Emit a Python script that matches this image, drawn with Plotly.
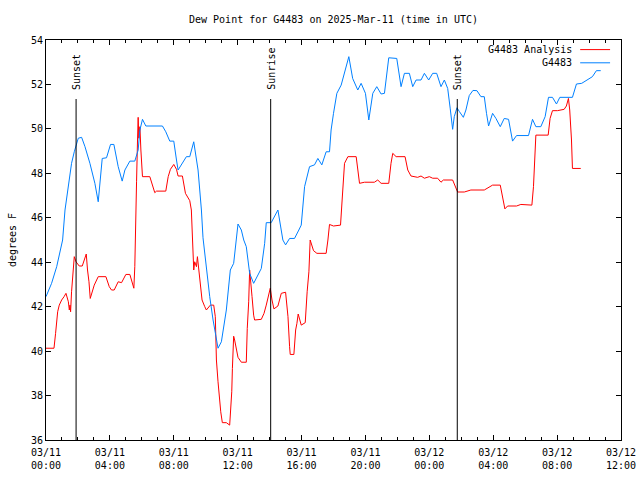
import pandas as pd
import plotly.graph_objects as go

base_date = "2025-03-11 00:00"

# G4483 observations (hours after base, dew point F)
obs_hours = [0.00, 0.35, 0.67, 0.92, 1.04, 1.19, 1.33, 1.60, 1.77, 2.02,
             2.23, 2.44, 2.75, 3.06, 3.27, 3.38, 3.52, 3.79, 4.04, 4.25,
             4.52, 4.77, 4.94, 5.25, 5.56, 5.77, 5.88, 6.04, 6.25, 7.29,
             7.50, 7.75, 8.00, 8.17, 8.27, 8.79, 9.00, 9.25, 9.52, 9.73,
             9.83, 10.25, 10.46, 10.77, 10.98, 11.29, 11.54, 11.75, 11.92, 12.02,
             12.23, 12.38, 12.54, 12.75, 13.00, 13.48, 13.69, 13.79, 14.10, 14.52,
             14.83, 15.00, 15.25, 15.56, 15.83, 15.98, 16.19, 16.50, 16.81, 17.02,
             17.27, 17.54, 17.75, 17.85, 18.00, 18.21, 18.48, 18.69, 18.96, 19.20,
             19.52, 19.73, 20.00, 20.21, 20.46, 20.71, 20.98, 21.19, 21.29, 21.46,
             21.96, 22.23, 22.44, 22.75, 22.96, 23.17, 23.48, 23.69, 23.96, 24.21,
             24.46, 24.73, 24.94, 25.15, 25.31, 25.46, 25.56, 25.73, 25.88, 26.13,
             26.29, 26.50, 26.73, 26.98, 27.23, 27.44, 27.58, 27.71, 27.96, 28.17,
             28.44, 28.69, 28.96, 29.10, 29.21, 29.46, 30.21, 30.46, 30.67, 30.98,
             31.25, 31.46, 31.71, 31.96, 32.17, 32.96, 33.21, 33.54, 34.00, 34.21,
             34.46, 34.73]
obs_dewpt = [42.45, 43.05, 43.80, 44.55, 45.00, 46.35, 47.10, 48.45, 48.97, 49.58,
             49.62, 49.20, 48.45, 47.55, 46.72, 47.47, 48.67, 48.70, 49.30, 49.30,
             48.30, 47.65, 48.15, 48.55, 48.55, 49.05, 49.95, 50.43, 50.13, 50.13,
             49.87, 49.45, 49.45, 48.60, 48.15, 48.75, 48.75, 49.42, 48.15, 46.35,
             45.10, 42.45, 41.40, 40.13, 40.42, 41.85, 43.65, 43.95, 45.00, 45.72,
             45.45, 45.00, 44.70, 43.50, 43.05, 43.72, 44.85, 45.78, 45.78, 46.35,
             45.00, 44.78, 45.07, 45.07, 45.45, 45.67, 47.40, 48.30, 48.38, 48.67,
             48.38, 48.97, 48.97, 49.95, 50.70, 51.60, 51.97, 52.50, 53.25, 52.27,
             51.75, 52.05, 51.60, 50.40, 51.60, 51.90, 51.57, 51.60, 52.20, 53.20,
             53.17, 51.90, 52.50, 52.50, 51.90, 52.20, 52.20, 52.50, 52.20, 52.50,
             52.50, 51.90, 52.20, 51.82, 50.90, 49.98, 50.55, 50.95, 50.78, 50.52,
             50.85, 51.50, 51.73, 51.72, 51.45, 51.45, 50.70, 50.13, 50.70, 50.47,
             50.10, 50.47, 50.43, 49.95, 49.45, 49.70, 49.70, 50.43, 50.10, 50.10,
             50.55, 51.42, 51.42, 51.12, 51.42, 51.42, 52.02, 52.05, 52.23, 52.35,
             52.62, 52.62]

# G4483 Analysis
ana_hours = [0.00, 0.50, 0.60, 0.73, 0.83, 0.98, 1.13, 1.25, 1.40, 1.46,
             1.50, 1.54, 1.60, 1.67, 1.77, 1.88, 2.08, 2.27, 2.40, 2.52,
             2.60, 2.69, 2.77, 2.85, 3.02, 3.27, 3.75, 3.96, 4.10, 4.27,
             4.52, 4.73, 5.00, 5.25, 5.42, 5.50, 5.56, 5.60, 5.67, 5.73,
             5.77, 5.81, 5.88, 5.94, 6.04, 6.50, 6.67, 6.81, 6.92, 7.50,
             7.65, 7.79, 8.00, 8.17, 8.27, 8.54, 8.73, 9.00, 9.10, 9.17,
             9.25, 9.31, 9.42, 9.48, 9.58, 9.67, 9.77, 9.94, 10.04, 10.29,
             10.50, 10.60, 10.67, 10.77, 10.88, 10.94, 11.04, 11.29, 11.50, 11.56,
             11.63, 11.67, 11.75, 11.81, 11.92, 12.02, 12.23, 12.54, 12.60, 12.69,
             12.75, 12.79, 12.90, 13.00, 13.06, 13.48, 13.65, 13.79, 13.96, 14.04,
             14.15, 14.27, 14.52, 14.73, 15.00, 15.15, 15.25, 15.29, 15.52, 15.63,
             15.71, 15.79, 15.98, 16.23, 16.35, 16.46, 16.54, 16.75, 16.96, 17.54,
             17.65, 17.75, 18.00, 18.44, 18.54, 18.69, 18.90, 19.42, 19.63, 19.94,
             20.56, 20.77, 20.98, 21.46, 21.60, 21.71, 21.92, 22.48, 22.65, 22.85,
             23.27, 23.48, 23.69, 24.00, 24.21, 24.52, 24.73, 24.88, 25.46, 25.77,
             26.19, 26.60, 27.44, 27.96, 28.44, 28.58, 28.73, 28.90, 29.46, 29.73,
             30.42, 30.52, 30.67, 31.44, 31.56, 31.71, 32.02, 32.44, 32.58, 32.71,
             32.79, 32.90, 32.96, 33.48]
ana_dewpt = [40.13, 40.13, 40.80, 41.77, 42.07, 42.30, 42.45, 42.60, 42.22, 41.85,
             42.07, 41.77, 42.67, 43.35, 44.25, 44.02, 43.83, 43.83, 44.10, 44.37,
             43.65, 43.12, 42.37, 42.60, 42.97, 43.35, 43.35, 42.90, 42.75, 42.75,
             43.12, 43.08, 43.45, 43.45, 43.05, 42.83, 43.80, 45.75, 47.62, 49.50,
             50.52, 49.58, 50.10, 49.05, 47.85, 47.85, 47.40, 47.13, 47.20, 47.20,
             47.85, 48.18, 48.40, 48.18, 47.88, 47.88, 47.10, 46.77, 46.35, 44.78,
             43.65, 44.02, 43.80, 44.25, 43.50, 43.05, 42.30, 42.00, 41.85, 42.07,
             42.07, 41.55, 39.60, 38.62, 37.65, 37.27, 36.78, 36.78, 36.67, 37.20,
             38.17, 39.22, 40.67, 40.50, 40.13, 39.72, 39.50, 39.50, 41.02, 42.22,
             43.65, 43.23, 42.45, 41.62, 41.40, 41.43, 41.70, 42.07, 42.60, 42.83,
             42.30, 41.90, 42.03, 42.60, 42.65, 41.55, 40.20, 39.85, 39.85, 40.95,
             41.25, 41.67, 41.17, 41.28, 42.67, 43.57, 45.00, 44.52, 44.40, 44.40,
             45.00, 45.70, 45.63, 45.67, 46.80, 48.45, 48.75, 48.75, 47.55, 47.60,
             47.60, 47.70, 47.55, 47.55, 48.45, 48.90, 48.75, 48.75, 48.15, 47.88,
             47.82, 47.88, 47.78, 47.85, 47.78, 47.78, 47.60, 47.70, 47.70, 47.16,
             47.16, 47.25, 47.25, 47.47, 47.47, 46.95, 46.40, 46.53, 46.53, 46.60,
             46.57, 47.40, 49.72, 49.72, 50.47, 50.82, 50.82, 50.88, 51.03, 51.37,
             50.85, 49.50, 48.22, 48.22]

event_names = ["Sunset", "Sunrise", "Sunset"]
event_times = ["2025-03-11 01:53", "2025-03-11 14:04", "2025-03-12 01:45"]

series_names = ["G4483 Analysis", "G4483"]
series_colors = ["#ff0000", "#0080ff"]

assert len(obs_hours) == len(obs_dewpt)
assert len(ana_hours) == len(ana_dewpt)

t0 = pd.Timestamp(base_date)
obs_t = [t0 + pd.Timedelta(hours=h) for h in obs_hours]
ana_t = [t0 + pd.Timedelta(hours=h) for h in ana_hours]

FONT = "DejaVu Sans Mono"

fig = go.Figure()
fig.add_trace(go.Scatter(x=ana_t, y=ana_dewpt, mode="lines", name=series_names[0],
                         line=dict(color=series_colors[0], width=1), showlegend=False))
fig.add_trace(go.Scatter(x=obs_t, y=obs_dewpt, mode="lines", name=series_names[1],
                         line=dict(color=series_colors[1], width=1), showlegend=False))

# event markers
for name, t in zip(event_names, event_times):
    fig.add_shape(type="line", xref="x", yref="paper", x0=t, x1=t, y0=0, y1=0.8525,
                  line=dict(color="black", width=1))
    fig.add_annotation(x=t, xref="x", y=0.87, yref="paper", text=name, textangle=-90,
                       showarrow=False, xanchor="center", yanchor="bottom",
                       font=dict(family=FONT, size=10, color="black"))

# legend (gnuplot style: text left, sample right)
leg_y = [0.976, 0.943]
for i, (nm, col) in enumerate(zip(series_names, series_colors)):
    fig.add_annotation(x=0.918, xref="paper", y=leg_y[i], yref="paper", text=nm,
                       showarrow=False, xanchor="right", yanchor="middle",
                       font=dict(family=FONT, size=10, color="black"))
    fig.add_shape(type="line", xref="paper", yref="paper", x0=0.929, x1=0.981,
                  y0=leg_y[i], y1=leg_y[i], line=dict(color=col, width=1))

fig.add_annotation(x=-0.059, xref="paper", y=0.5, yref="paper", text="degrees F",
                   textangle=-90, showarrow=False, xanchor="center", yanchor="middle",
                   font=dict(family=FONT, size=10, color="black"))

fig.update_layout(
    width=640, height=480,
    margin=dict(l=46, r=19, t=40, b=40, autoexpand=False),
    paper_bgcolor="white", plot_bgcolor="white",
    font=dict(family=FONT, size=10, color="black"),
    title=dict(text="Dew Point for G4483 on 2025-Mar-11 (time in UTC)",
               x=0.5, xref="paper", xanchor="center",
               y=1 - 19 / 480, yref="container", yanchor="middle",
               font=dict(family=FONT, size=10, color="black")),
    showlegend=False,
    hovermode=False,
)
fig.update_xaxes(
    type="date", range=["2025-03-11 00:00", "2025-03-12 12:00"],
    tick0="2025-03-11 00:00", dtick=4 * 3600000, tickformat="%m/%d<br>%H:%M",
    ticks="inside", ticklen=5, tickcolor="black", showline=True, linecolor="black",
    linewidth=1, mirror="ticks", showgrid=False, zeroline=False,
    ticklabelstandoff=3,
    minor=dict(dtick=3600000, ticks="inside", ticklen=3, tickcolor="black", showgrid=False),
    tickfont=dict(family=FONT, size=10, color="black"),
)
fig.update_yaxes(
    range=[36, 54], dtick=2, tick0=36, ticks="inside", ticklen=5, tickcolor="black",
    showline=True, linecolor="black", linewidth=1, mirror="ticks",
    showgrid=False, zeroline=False,
    tickfont=dict(family=FONT, size=10, color="black"),
)

fig.write_html("out.html", config={"displayModeBar": False},
               post_script="document.body.style.margin='0';")
